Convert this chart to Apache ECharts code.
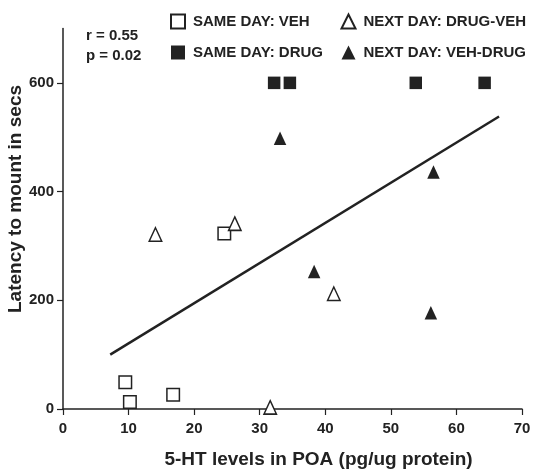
<!DOCTYPE html>
<html>
<head>
<meta charset="utf-8">
<script src="https://cdn.jsdelivr.net/npm/echarts@6/dist/echarts.min.js"></script>
<style>html,body{margin:0;padding:0;background:#fff;}#c{width:542px;height:475px;}</style>
</head>
<body>
<div id="c"></div>
<script>
// Data
var sameDayVehX = [9.5, 10.2, 16.8, 24.6];
var sameDayVehY = [49, 13, 26, 323];
var sameDayDrugX = [32.2, 34.6, 53.8, 64.3];
var sameDayDrugY = [600, 600, 600, 600];
var nextDayDrugVehX = [14.1, 26.2, 31.6, 41.3];
var nextDayDrugVehY = [321, 341, 3, 212];
var nextDayVehDrugX = [33.1, 56.5, 38.3, 56.1];
var nextDayVehDrugY = [498, 436, 253, 177];
var fitX = [7.2, 66.5];
var fitY = [100, 538];
var yTicks = [0, 200, 400, 600];
var seriesNames = ['SAME DAY: VEH', 'SAME DAY: DRUG', 'NEXT DAY: DRUG-VEH', 'NEXT DAY: VEH-DRUG'];
var statsText = ['r = 0.55', 'p = 0.02'];
var xTitle = '5-HT levels in POA (pg/ug protein)';
var yTitle = 'Latency to mount in secs';

function pairs(xs, ys) { return xs.map(function (x, i) { return [x, ys[i]]; }); }

var ink = '#222';
var font = '"Liberation Sans", Arial, sans-serif';
var chart = echarts.init(document.getElementById('c'));
var legendText = { color: ink, fontSize: 15, fontWeight: 'bold', fontFamily: font, lineHeight: 14, padding: [0, 0, 0, 3] };
chart.setOption({
  animation: false,
  backgroundColor: '#fff',
  grid: { left: 63, right: 20, top: 28.5, bottom: 66 },
  xAxis: {
    type: 'value', min: 0, max: 70, interval: 10,
    axisLine: { lineStyle: { color: ink, width: 1.5 } },
    axisTick: { length: 6, lineStyle: { color: ink, width: 1.2 } },
    axisLabel: { color: ink, fontSize: 15, fontWeight: 'bold', fontFamily: font, margin: 12 },
    splitLine: { show: false }
  },
  yAxis: {
    type: 'value', min: 0, max: 700, interval: 100,
    axisLine: { show: true, lineStyle: { color: ink, width: 1.5 } },
    axisTick: { show: true, length: 6, customValues: yTicks, lineStyle: { color: ink, width: 1.2 } },
    axisLabel: { color: ink, fontSize: 15, fontWeight: 'bold', fontFamily: font, margin: 9, customValues: yTicks, padding: [0, 0, 6, 0] },
    splitLine: { show: false }
  },
  legend: [
    { left: 165, top: 8.5, orient: 'vertical', itemWidth: 14, itemHeight: 14, itemGap: 15.5, data: [seriesNames[0], seriesNames[1]], textStyle: legendText },
    { left: 335.5, top: 8.5, orient: 'vertical', itemWidth: 14, itemHeight: 14, itemGap: 15.5, data: [seriesNames[2], seriesNames[3]], textStyle: legendText }
  ],
  graphic: [
    { type: 'text', x: 86, y: 36, style: { text: statsText[0], fill: ink, font: 'bold 15px ' + font, textVerticalAlign: 'middle' } },
    { type: 'text', x: 86, y: 56, style: { text: statsText[1], fill: ink, font: 'bold 15px ' + font, textVerticalAlign: 'middle' } },
    { type: 'text', x: 318.5, y: 460, style: { text: xTitle, fill: ink, font: 'bold 19px ' + font, textAlign: 'center', textVerticalAlign: 'middle' } },
    { type: 'text', x: 16, y: 199, rotation: Math.PI / 2, style: { text: yTitle, fill: ink, font: 'bold 19px ' + font, textAlign: 'center', textVerticalAlign: 'middle' } }
  ],
  series: [
    { name: 'fit', type: 'line', data: pairs(fitX, fitY), symbol: 'none', lineStyle: { color: ink, width: 2.5 }, silent: true, z: 1 },
    { name: seriesNames[0], type: 'scatter', symbol: 'rect', symbolSize: 12.5, data: pairs(sameDayVehX, sameDayVehY),
      itemStyle: { color: '#fff', borderColor: ink, borderWidth: 1.5, opacity: 1 }, z: 3 },
    { name: seriesNames[1], type: 'scatter', symbol: 'rect', symbolSize: 12.5, data: pairs(sameDayDrugX, sameDayDrugY),
      itemStyle: { color: ink, borderColor: ink, borderWidth: 0, opacity: 1 }, z: 3 },
    { name: seriesNames[2], type: 'scatter', symbol: 'triangle', symbolSize: [12.5, 13.5], data: pairs(nextDayDrugVehX, nextDayDrugVehY),
      itemStyle: { color: '#fff', borderColor: ink, borderWidth: 1.5, opacity: 1 }, z: 4 },
    { name: seriesNames[3], type: 'scatter', symbol: 'triangle', symbolSize: [12.5, 13.5], data: pairs(nextDayVehDrugX, nextDayVehDrugY),
      itemStyle: { color: ink, borderColor: ink, borderWidth: 0, opacity: 1 }, z: 4 }
  ]
});
</script>
</body>
</html>
